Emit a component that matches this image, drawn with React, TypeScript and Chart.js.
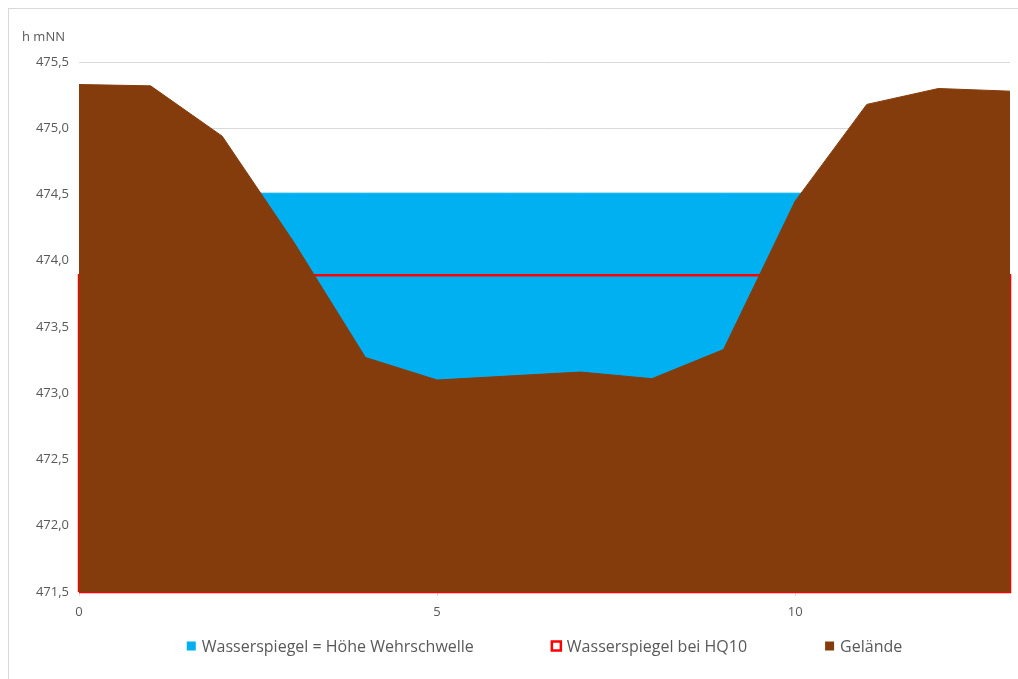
import { useEffect, useRef } from "react";
import { Chart, registerables } from "chart.js";

Chart.register(...registerables);

// ---- data ----
const stations = [0, 1, 2, 3, 4, 5, 6, 7, 8, 9, 10, 11, 12, 13];
const gelaende = [475.33, 475.32, 474.94, 474.14, 473.27, 473.1, 473.13, 473.16, 473.11, 473.33, 474.45, 475.18, 475.3, 475.28];
const wehrschwelle = [474.51, 474.51, 474.51, 474.51, 474.51, 474.51, 474.51, 474.51, 474.51, 474.51, 474.51, 474.51, 474.51, 474.51];
const hq10 = [473.89, 473.89, 473.89, 473.89, 473.89, 473.89, 473.89, 473.89, 473.89, 473.89, 473.89, 473.89, 473.89, 473.89];
const seriesLabels = ["Wasserspiegel = Höhe Wehrschwelle", "Wasserspiegel bei HQ10", "Gelände"];
const yAxisTitle = "h mNN";
const yMin = 471.5;
const yMax = 475.5;
const yStep = 0.5;
const xMin = 0;
const xMax = 13;
const xStep = 5;

const FONT = '"Open Sans", "Liberation Sans", sans-serif';
const TEXT = "#595959";
const BLUE = "#00B0F0";
const RED = "#FF0000";
const BROWN = "#843C0C";

const legendPlugin = {
  id: "excelLegend",
  afterDraw(chart: any) {
    const ctx = chart.ctx;
    const area = chart.chartArea;
    const items = chart.data.datasets.map((ds: any) => ({
      text: ds.label,
      fill: ds.legendFill,
      stroke: ds.legendStroke,
    }));
    const fontSize = 16;
    const box = 9;
    const boxGap = 6;
    const itemGap = 78;
    ctx.save();
    ctx.font = `${fontSize}px ${FONT}`;
    const widths = items.map((it: any) => box + boxGap + ctx.measureText(it.text).width);
    const total = widths.reduce((a: number, b: number) => a + b, 0) + itemGap * (items.length - 1);
    let x = (area.left + area.right) / 2 - total / 2;
    const y = 637;
    ctx.textBaseline = "middle";
    ctx.textAlign = "left";
    items.forEach((it: any, i: number) => {
      if (it.stroke) {
        ctx.fillStyle = "#ffffff";
        ctx.fillRect(x, y - box / 2, box, box);
        ctx.strokeStyle = it.stroke;
        ctx.lineWidth = 2.5;
        ctx.strokeRect(x, y - box / 2, box, box);
      } else {
        ctx.fillStyle = it.fill;
        ctx.fillRect(x, y - box / 2, box, box);
      }
      ctx.fillStyle = TEXT;
      ctx.fillText(it.text, x + box + boxGap, y + 1);
      x += widths[i] + itemGap;
    });
    ctx.restore();
  },
};

export default function App() {
  const ref = useRef<HTMLCanvasElement | null>(null);

  useEffect(() => {
    if (!ref.current) return;
    const pts = (vals: number[]) => stations.map((s, i) => ({ x: s, y: vals[i] }));
    const last = stations.length - 1;
    const hq10Outline = [
      { x: stations[0], y: yMin },
      ...pts(hq10),
      { x: stations[last], y: yMin },
      { x: stations[0], y: yMin },
    ];

    const chart = new Chart(ref.current, {
      type: "line",
      data: {
        datasets: [
          {
            label: seriesLabels[0],
            data: pts(wehrschwelle),
            fill: "start",
            backgroundColor: BLUE,
            borderColor: BLUE,
            borderWidth: 1,
            pointRadius: 0,
            tension: 0,
            order: 3,
            legendFill: BLUE,
          } as any,
          {
            label: seriesLabels[1],
            data: hq10Outline,
            fill: false,
            backgroundColor: "rgba(0,0,0,0)",
            borderColor: RED,
            borderWidth: 2.5,
            pointRadius: 0,
            tension: 0,
            order: 2,
            clip: 6,
            legendStroke: RED,
          } as any,
          {
            label: seriesLabels[2],
            data: pts(gelaende),
            fill: "start",
            backgroundColor: BROWN,
            borderColor: BROWN,
            borderWidth: 1,
            pointRadius: 0,
            tension: 0,
            order: 1,
            legendFill: BROWN,
          } as any,
        ],
      },
      options: {
        animation: false,
        responsive: false,
        layout: { padding: { left: 13, right: 8, top: 0, bottom: 57 } },
        plugins: {
          legend: { display: false },
          tooltip: { enabled: false },
          title: {
            display: true,
            text: yAxisTitle,
            align: "start",
            color: TEXT,
            font: { family: FONT, size: 13, weight: "normal" },
            padding: { top: 20, bottom: 17.4 },
          },
        },
        scales: {
          x: {
            type: "linear",
            min: xMin,
            max: xMax,
            afterFit: (s: any) => {
              s.height = 30;
            },
            ticks: {
              stepSize: xStep,
              includeBounds: false,
              color: TEXT,
              font: { family: FONT, size: 13 },
              padding: 8,
              maxRotation: 0,
            },
            grid: {
              drawOnChartArea: false,
              drawTicks: true,
              tickLength: 4,
              color: "#d9d9d9",
            },
            border: { display: true, color: "#bfbfbf" },
          },
          y: {
            type: "linear",
            min: yMin,
            max: yMax,
            afterFit: (s: any) => {
              s.width = 57;
            },
            ticks: {
              stepSize: yStep,
              color: TEXT,
              font: { family: FONT, size: 13 },
              padding: 10,
              callback: (v: any) => Number(v).toFixed(1).replace(".", ","),
            },
            grid: { color: "#d9d9d9", drawTicks: false },
            border: { display: false },
          },
        },
      } as any,
      plugins: [legendPlugin],
    });
    return () => chart.destroy();
  }, []);

  return (
    <div
      style={{
        position: "fixed",
        left: 8,
        top: 8,
        width: 1009,
        height: 670,
        borderTop: "1px solid #d9d9d9",
        borderLeft: "1px solid #d9d9d9",
        background: "#ffffff",
      }}
    >
      <canvas ref={ref} width={1009} height={670} style={{ display: "block" }} />
    </div>
  );
}
